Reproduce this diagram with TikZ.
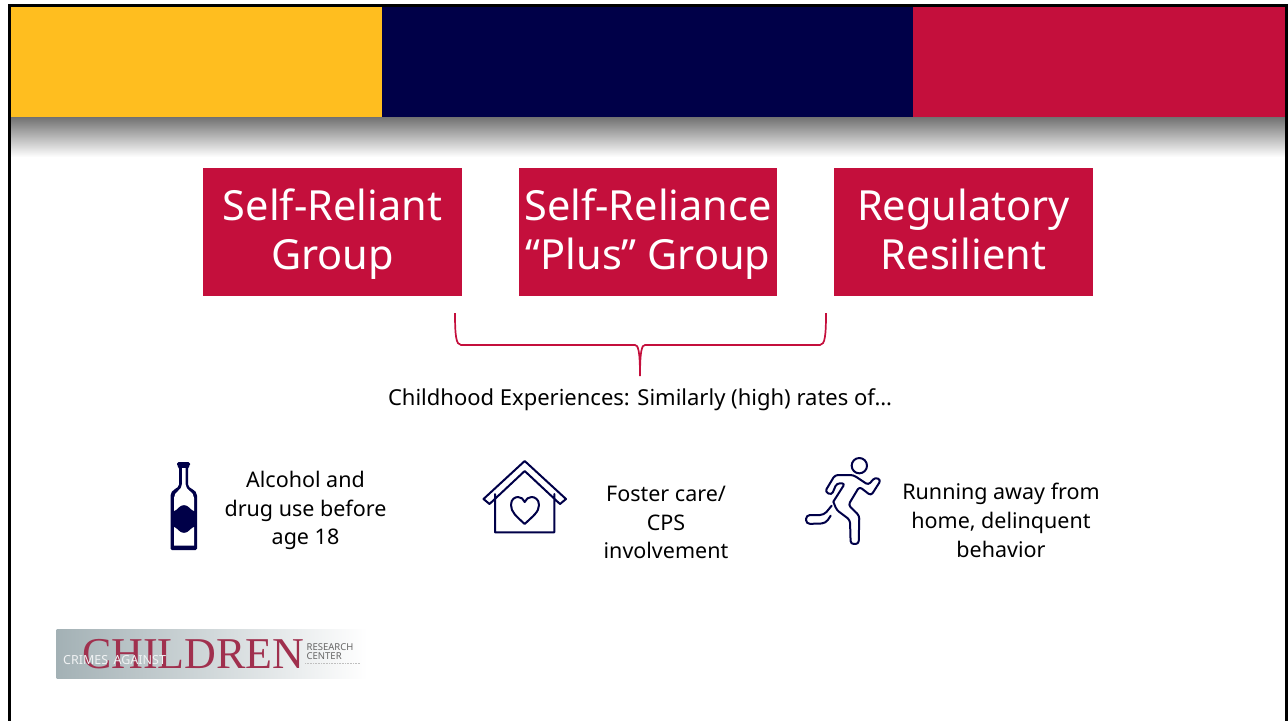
\documentclass[tikz,border=0pt]{standalone}
\usepackage{fontspec}
\setmainfont{Noto Sans}
\newfontfamily\logofont{Liberation Serif}
\usetikzlibrary{positioning}
\definecolor{bandgold}{HTML}{FFBE1F}
\definecolor{bandnavy}{HTML}{000048}
\definecolor{bandred}{HTML}{C40F3C}
\definecolor{logored}{HTML}{A0304E}
\definecolor{logogray}{HTML}{A3B1B5}
\newcommand{\toprule}{\rule{0pt}{41.3pt}}
\tikzset{main node/.style={shape=rectangle,
    fill=bandred, text=white, align=center,
    minimum width=258.5pt, minimum height=128pt, inner sep=0pt, outer sep=0pt,
    font=\fontsize{41.5}{49}\selectfont},
  band/.style={shape=rectangle, minimum height=110.5pt, inner sep=0pt, outer sep=0pt, anchor=north west},
  item node/.style={align=center, inner sep=0pt, font=\fontsize{21.5}{28.8}\selectfont},
  icon line/.style={draw=bandnavy, line width=2pt, line join=round, line cap=round}}

\begin{document}
\begin{tikzpicture}[x=1pt,y=-1pt]
    \useasboundingbox (0,0) rectangle (1288,721);

    % bands
    \node[band, fill=bandgold, minimum width=371.5pt] (gold) at (10.5,7) {};
    \node[band, fill=bandnavy, minimum width=531pt, right = 0pt of gold] (navy) {};
    \node[band, fill=bandred, minimum width=372pt, right = 0pt of navy] (red) {};
    \shade[top color=black!55, middle color=black!17, bottom color=white] (10.5,117.5) rectangle (1285,157);

    % frame
    \fill[black] (8,4) rectangle (1288,7);
    \fill[black] (8,4) rectangle (10.5,721);
    \fill[black] (1285,4) rectangle (1288,721);

    % boxes
    \node[main node] (1) at (332.5,232) {\toprule Self-Reliant\\\strut Group};
    \node[main node] (2) [right = 57pt of 1] {\toprule Self-Reliance\\\strut “Plus” Group};
    \node[main node] (3) [right = 57pt of 2] {\toprule Regulatory\\\strut Resilient};

    % brace
    \coordinate (bl) at (455,313);
    \coordinate (br) at (826,313);
    \coordinate (bm) at (640,376);
    \draw[bandred, line width=1.7pt]
    (bl) .. controls (455,335) and (456,345) .. (461,345)
    -- (635,345) .. controls (638,345) and (640,350) .. (bm)
    (br) .. controls (826,335) and (825,345) .. (820,345)
    -- (645,345) .. controls (642,345) and (640,350) .. (bm);

    \node[item node, font=\fontsize{22}{28.8}\selectfont] (4) at (640,399.5) {Childhood Experiences: Similarly (high) rates of…};

    \node[item node] (5) at (305.5,510.5) {Alcohol and\\drug use before\\age 18};
    \node[item node] (6) at (666,522.5) {Foster care/\\CPS\\involvement};
    \node[item node] (7) at (1001,520.5) {Running away from\\home, delinquent\\behavior};

    % bottle
    \fill[bandnavy, rounded corners=1.5pt]
    (177,462) -- (190,462) -- (190,466) -- (188,467) -- (188,483)
    .. controls (188,489) and (197,489) .. (197,497)
    -- (197,550) -- (170.5,550) -- (170.5,497)
    .. controls (170.5,489) and (179,489) .. (179,483)
    -- (179,467) -- (177,466) -- cycle;
    \fill[white]
    (182,468) -- (185.5,468) -- (185.5,484)
    .. controls (185.5,491) and (194,491) .. (194,498)
    -- (194,511) .. controls (191,510.5) and (189,505) .. (184,505)
    .. controls (179,505) and (177,510.5) .. (174,511)
    -- (174,498) .. controls (174,491) and (182,491) .. (182,484) -- cycle;
    \fill[white]
    (174,527) .. controls (177,527.5) and (179,533) .. (184,533)
    .. controls (189,533) and (191,527.5) .. (194,527)
    -- (194,545.5) -- (174,545.5) -- cycle;

    % house
    \draw[icon line]
    (483.5,499) -- (524.7,461) -- (566,499) -- (560,504) -- (524.7,471) -- (489.5,504) -- cycle
    (495,494) -- (495,532.3) -- (554.3,532.3) -- (554.3,494);
    \draw[icon line]
    (524.7,524) .. controls (516,516) and (511,512) .. (511,505)
    .. controls (511,499) and (515,497) .. (518,497)
    .. controls (521,497) and (523.5,499) .. (524.7,502)
    .. controls (526,499) and (528.5,497) .. (531.5,497)
    .. controls (534.5,497) and (539,499) .. (539,505)
    .. controls (539,512) and (533,516) .. (524.7,524);

    % runner
    \begin{scope}[shift={(790,445)},x=0.3333pt,y=-0.3333pt]
    \draw[icon line] (208,62) circle (23);
    \draw[icon line, rounded corners=3pt]
    (130,170) -- (165,115) -- (140,115) -- (125,150) -- (105,140) -- (135,90) -- (190,90)
    -- (235,120) -- (255,97) -- (273,105) -- (243,152) -- (208,125) -- (175,180) -- (208,212)
    -- (206,297) -- (182,297) -- (180,225) -- (140,195) -- (130,170);
    \draw[icon line, rounded corners=4pt]
    (125,182) -- (102,210) -- (48,210) -- (48,237) -- (107,235) -- (122,212);
    \end{scope}

    % logo
    \shade[left color=logogray, right color=white] (56.5,629) rectangle (367,678);
    \node[inner sep=0pt, anchor=base west, text=logored, font=\logofont\fontsize{44}{44}\selectfont] (8) at (82,668) {CHILDREN};
    \node[inner sep=0pt, anchor=base west, text=white!85!logogray, font=\fontsize{12.5}{12.5}\selectfont] (9) at (63,664) {CRIMES \,AGAINST};
    \node[inner sep=0pt, align=left, anchor=west, text=black!60, font=\fontsize{9.5}{9}\selectfont] (10) at (306.5,651.5) {RESEARCH\\CENTER};
    \coordinate (dl) at (305,663);
    \coordinate (dr) at (360,663);
    \draw[black!25, densely dotted, line width=.6pt] (dl) -- (dr);
\end{tikzpicture}
\end{document}
